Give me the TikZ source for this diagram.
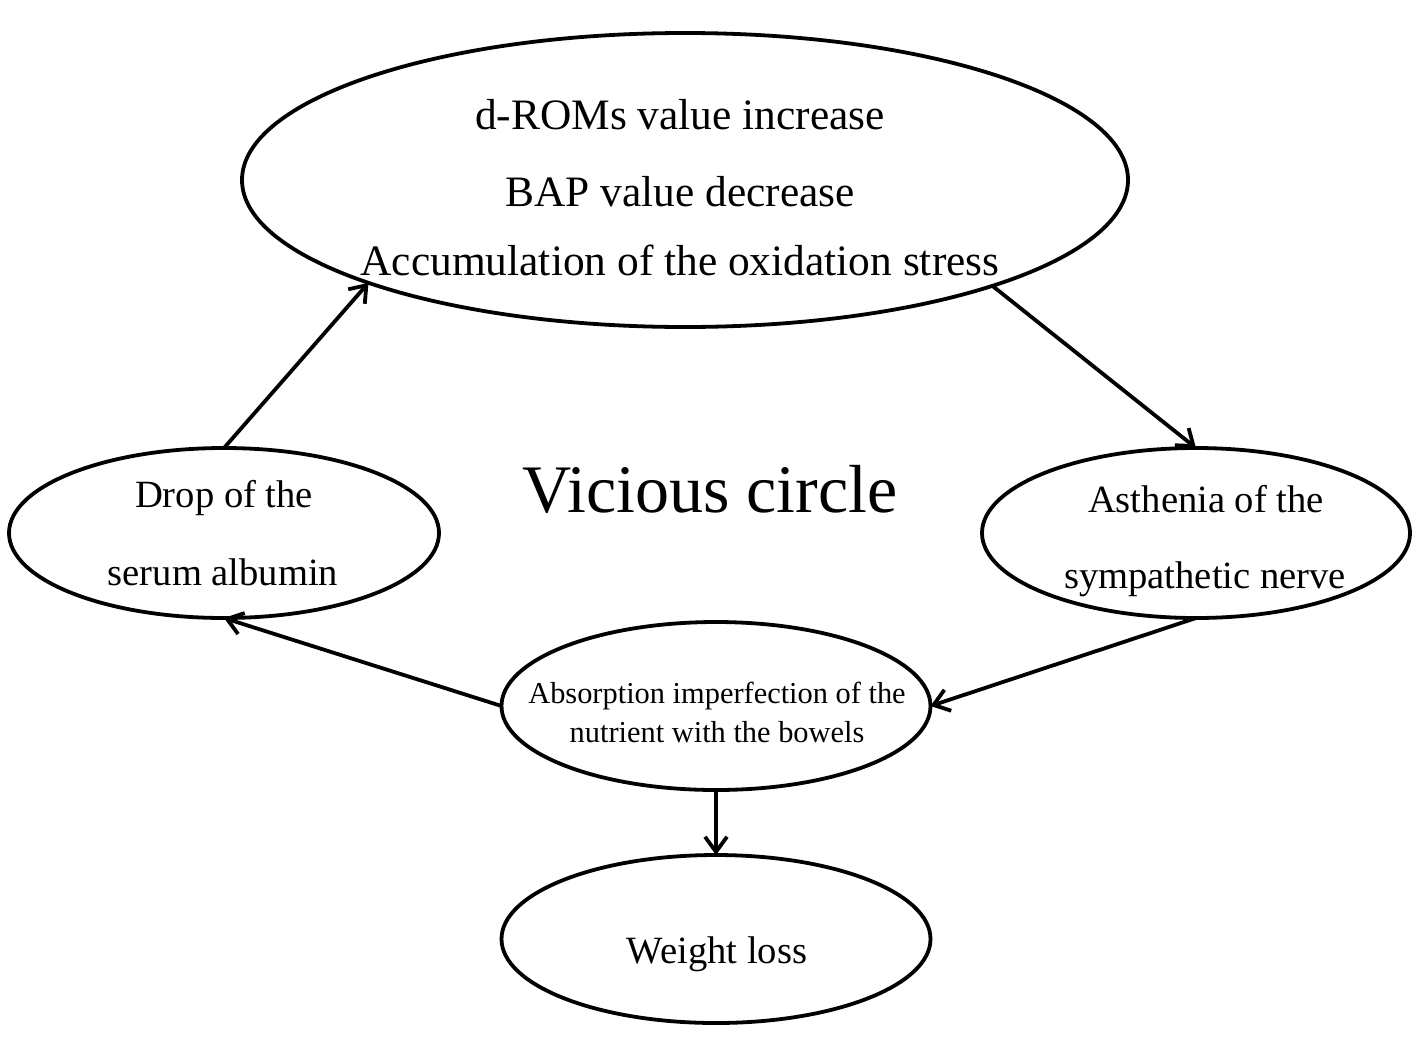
\documentclass[tikz,border=0pt]{standalone}
\usepackage{fontspec}
\setmainfont{Liberation Serif}
\usetikzlibrary{shapes.geometric,arrows.meta}
\begin{document}
\begin{tikzpicture}[x=0.5pt,y=-0.5pt,
  oval/.style={draw=black,line width=1.9pt,ellipse,inner sep=0pt,outer sep=0pt},
  lbl/.style={anchor=base,inner sep=0pt},
  conn/.style={line width=1.9pt,-{Straight Barb[length=7.5pt,width=11pt,line width=1.9pt]}},
  ftop/.style={font=\fontsize{21.7}{26}\selectfont},
  fside/.style={font=\fontsize{19.3}{23}\selectfont},
  fmid/.style={font=\fontsize{15.2}{18}\selectfont},
  fbig/.style={font=\fontsize{34}{40}\selectfont}]
\useasboundingbox (0,0) rectangle (1417,1044);
\fill[white] (0,0) rectangle (1417,1044);
% ellipses
\node[oval,minimum width=443pt,minimum height=147pt] (top) at (685,180) {};
\node[oval,minimum width=215pt,minimum height=85pt] (left) at (224,533) {};
\node[oval,minimum width=214pt,minimum height=85pt] (right) at (1196,533) {};
\node[oval,minimum width=214.5pt,minimum height=84pt] (mid) at (716,706) {};
\node[oval,minimum width=214.5pt,minimum height=84pt] (bot) at (716,939) {};
% texts
\node[lbl,ftop] (t1) at (680,129) {d-ROMs value increase};
\node[lbl,ftop] (t2) at (680,206) {BAP value decrease};
\node[lbl,ftop] (t3) at (680,275) {Accumulation of the oxidation stress};
\node[lbl,fside] (l1) at (224,507) {Drop of the};
\node[lbl,fside] (l2) at (223,585) {serum albumin};
\node[lbl,fside] (r1) at (1206,512) {Asthenia of the};
\node[lbl,fside] (r2) at (1205,588) {sympathetic nerve};
\node[lbl,fmid] (m1) at (717,703) {Absorption imperfection of the};
\node[lbl,fmid] (m2) at (717,742) {nutrient with the bowels};
\node[lbl,fside] (w1) at (717,963) {Weight loss};
\node[lbl,fbig] (vc) at (710,512) {Vicious circle};
% connectors
\draw[conn] (left.north) -- (top.198.5);
\draw[conn] (top.341.5) -- (right.north);
\draw[conn] (right.south) -- (mid.east);
\draw[conn] (mid.west) -- (left.south);
\draw[conn] (mid.south) -- (bot.north);
\end{tikzpicture}
\end{document}
